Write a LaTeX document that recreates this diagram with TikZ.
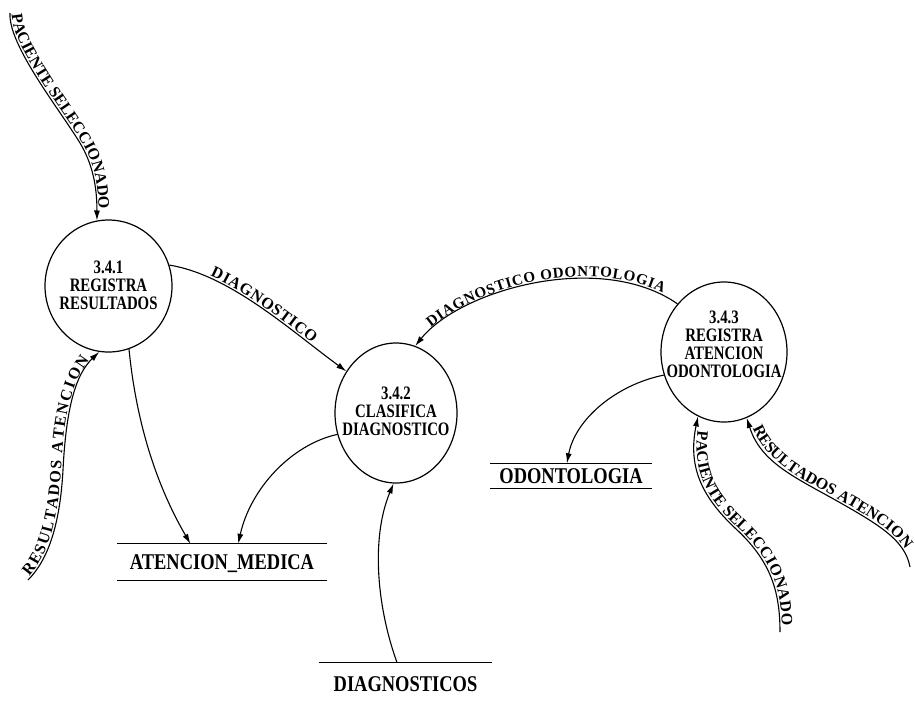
\documentclass[tikz,border=0pt]{standalone}
\usepackage{fontspec}
\setmainfont{Liberation Serif}[FakeStretch=0.82]
\newfontfamily\lblfam{Liberation Serif}
\newfontfamily\procfam{Liberation Serif}[FakeStretch=0.78]
\usetikzlibrary{shapes.geometric,arrows.meta,decorations.text,calc}
\newcommand\lblfont{\lblfam\fontsize{16}{16}\selectfont\bfseries}
\newcommand\lblfontsm{\lblfam\fontsize{15}{15}\selectfont\bfseries}
\begin{document}
\begin{tikzpicture}[x=1pt,y=-1pt,
  proc/.style={ellipse, draw, line width=1.2pt, inner sep=0pt},
  ptext/.style={inner sep=0pt, align=center, font=\procfam\fontsize{19}{18}\selectfont\bfseries},
  store/.style={inner sep=0pt, text height=15pt, text depth=0pt,
    font=\fontsize{22.5}{24}\selectfont\bfseries},
  storeline/.style={line width=1pt},
  flow/.style={line width=1.1pt, -{Latex[length=10pt,width=6pt]}},
  rflow/.style={line width=1.1pt, {Latex[length=10pt,width=6pt]}-},
  lbl/.style n args={3}{postaction={decorate},
    decoration={text along path, text={|\lblfont|#1},
      text align={fit to path, left indent=#2, right indent=#3}, raise=2pt}},
  lblsm/.style n args={3}{postaction={decorate},
    decoration={text along path, text={|\lblfontsm|#1},
      text align={fit to path, left indent=#2, right indent=#3}, raise=2pt}},
]
\useasboundingbox (0,0) rectangle (915,702);

% processes
\node[proc, minimum width=127pt, minimum height=132pt] (c1) at (108.5,286) {};
\node[ptext] (c1t) at ($(c1.center)+(0,-1)$) {3.4.1\\REGISTRA\\RESULTADOS};
\node[proc, minimum width=122pt, minimum height=140pt] (c2) at (396,413) {};
\node[ptext] (c2t) at ($(c2.center)+(0,-2)$) {3.4.2\\CLASIFICA\\DIAGNOSTICO};
\node[proc, minimum width=126pt, minimum height=140pt] (c3) at (724,352) {};
\node[ptext] (c3t) at ($(c3.center)+(0,-8)$) {3.4.3\\REGISTRA\\ATENCION\\ODONTOLOGIA};

% data stores
\node[store, minimum width=210pt, minimum height=36pt] (ds1) at (222,562) {ATENCION\_MEDICA};
\draw[storeline] (ds1.north west) -- (ds1.north east);
\draw[storeline] (ds1.south west) -- (ds1.south east);
\node[store, minimum width=173pt, minimum height=43pt, anchor=north] (ds2) at (405.5,662) {DIAGNOSTICOS};
\draw[storeline] (ds2.north west) -- (ds2.north east);
\node[store, minimum width=162pt, minimum height=25pt] (ds3) at (571,476) {ODONTOLOGIA};
\draw[storeline] (ds3.north west) -- (ds3.north east);
\draw[storeline] (ds3.south west) -- (ds3.south east);

% attachment points on stores and free ends
\coordinate (ds1a) at ($(ds1.north west)!0.35!(ds1.north east)$);
\coordinate (ds1b) at ($(ds1.north west)!0.577!(ds1.north east)$);
\coordinate (ds2a) at ($(ds2.north west)!0.45!(ds2.north east)$);
\coordinate (ds3a) at ($(ds3.north west)!0.475!(ds3.north east)$);
\coordinate (p1) at (10,13);
\coordinate (r1) at (28,580);
\coordinate (p2) at (780,632);
\coordinate (r2) at (910,567);

% flows
\draw[flow, lbl={PACIENTE SELECCIONADO}{2pt}{14pt}]
  (p1) .. controls (8,45) and (60,110) .. (80,143) .. controls (92,163) and (97,185) .. (c1.100);
\draw[flow, lbl={RESULTADOS ATENCION}{4pt}{12pt}]
  (r1) .. controls (48,560) and (60,525) .. (63,470) .. controls (66,410) and (75,375) .. (c1.262);
\draw[flow, lbl={DIAGNOSTICO}{42pt}{44pt}]
  (c1.19) .. controls (230,275) and (290,330) .. (c2.140);
\draw[rflow, lblsm={DIAGNOSTICO ODONTOLOGIA}{24pt}{18pt}]
  (c2.74) .. controls (460,290) and (600,250) .. (c3.134);
\draw[flow] (c1.288) .. controls (138,440) and (165,500) .. (ds1a);
\draw[flow] (c2.200) .. controls (290,445) and (250,490) .. (ds1b);
\draw[flow] (ds2a) .. controls (378,610) and (370,540) .. (c2.268);
\draw[flow] (c3.201) .. controls (615,385) and (575,420) .. (ds3a);
\draw[rflow, lbl={PACIENTE SELECCIONADO}{14pt}{6pt}]
  (c3.248) .. controls (688,465) and (700,495) .. (735,528) .. controls (770,560) and (780,590) .. (p2);
\draw[rflow, lbl={RESULTADOS ATENCION}{12pt}{18pt}]
  (c3.289) .. controls (760,460) and (790,475) .. (830,497) .. controls (880,525) and (905,540) .. (r2);
\end{tikzpicture}
\end{document}
